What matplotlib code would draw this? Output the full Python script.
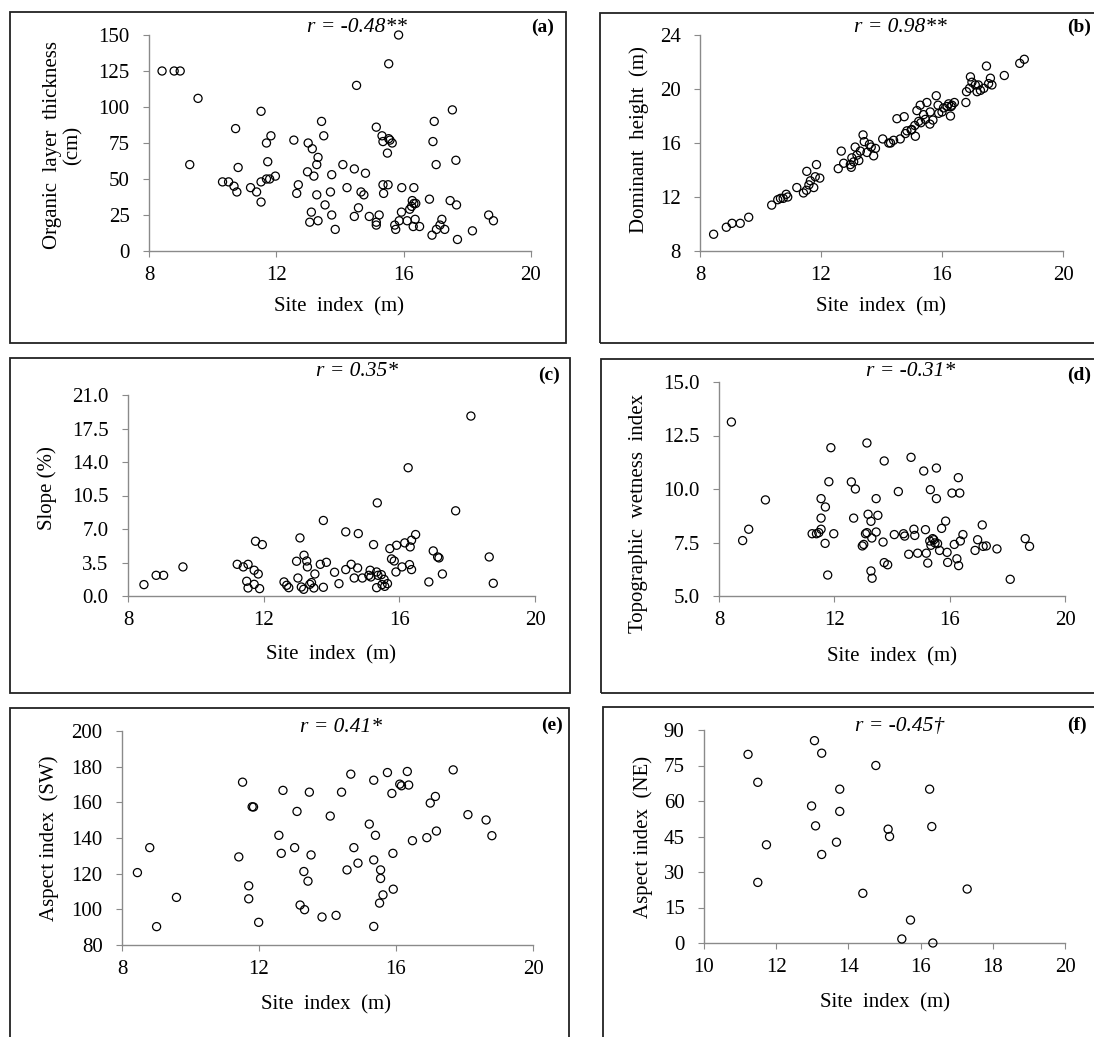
import matplotlib
matplotlib.use("Agg")
import matplotlib.pyplot as plt
from matplotlib.patches import Rectangle
from matplotlib.ticker import FormatStrFormatter

plt.rcParams["font.family"] = ["Liberation Serif", "DejaVu Serif"]

W, H = 1094, 1037

# ---------------------------------------------------------------------------
# Data (site index vs. stand / terrain variables)
# ---------------------------------------------------------------------------
si_a = [8.41, 8.79, 8.98, 9.54, 9.28, 10.72, 10.80, 11.52, 10.31, 10.50, 10.67, 10.76, 11.19,
        11.38, 11.52, 11.52, 11.69, 11.79, 11.97, 11.73, 11.69, 11.83, 12.55, 13.00, 13.13, 13.31,
        13.27, 13.42, 13.49, 12.98, 13.18, 12.69, 12.64, 13.74, 14.09, 14.45, 14.80, 14.22, 14.66,
        14.75, 13.70, 13.27, 13.53, 13.74, 13.10, 13.05, 13.31, 13.85, 14.58, 14.45, 14.92, 15.14,
        15.14, 15.23, 14.52, 15.53, 15.84, 15.14, 15.32, 15.35, 15.53, 15.57, 15.64, 15.49, 15.35,
        15.51, 15.37, 15.94, 16.32, 16.27, 16.32, 16.25, 16.38, 15.93, 15.72, 15.75, 15.86, 16.11,
        16.19, 16.36, 16.30, 16.50, 16.81, 16.89, 17.03, 17.14, 17.20, 17.29, 17.46, 17.66, 17.69,
        18.16, 18.67, 18.82, 16.92, 16.96, 17.02, 17.53, 17.64]
organic = [125, 125, 125, 106, 60, 85, 58, 97, 48, 48, 45, 41, 44,
           41, 34, 48, 50, 50, 52, 62, 75, 80, 77, 75, 71, 65,
           60, 90, 80, 55, 52, 46, 40, 53, 60, 57, 54, 44, 41,
           39, 41, 39, 32, 25, 27, 20, 21, 15, 30, 24, 24, 20,
           18, 25, 115, 130, 150, 86, 80, 76, 78, 77, 75, 68, 46,
           46, 40, 44, 44, 35, 33, 31, 33, 27, 18, 15, 21, 21,
           29, 22, 17, 17, 36, 11, 15, 18, 22, 15, 35, 32, 8,
           14, 25, 21, 76, 90, 60, 98, 63]

si_b = [8.45, 8.87, 9.06, 9.33, 9.61, 10.37, 10.57, 10.66, 10.75, 10.85, 11.20, 11.42, 11.52,
        11.53, 11.65, 11.76, 11.81, 11.85, 11.96, 12.57, 12.67, 12.75, 12.97, 13.02, 13.08, 13.13,
        13.19, 13.25, 13.39, 13.43, 13.52, 13.66, 13.74, 13.80, 14.04, 14.24, 14.40, 14.62, 14.79,
        14.84, 14.51, 14.75, 14.98, 15.12, 15.10, 15.23, 15.17, 15.28, 15.39, 15.45, 15.50, 15.61,
        15.70, 15.81, 15.87, 15.89, 16.05, 16.17, 16.22, 16.28, 16.33, 16.41, 16.79, 16.81, 16.91,
        16.94, 16.99, 17.10, 17.16, 17.27, 17.38, 17.47, 17.54, 17.60, 17.65, 18.06, 18.57, 18.72,
        10.90, 11.60, 13.00, 13.30, 13.60, 14.30, 15.00, 15.30, 15.60, 16.00, 16.30, 17.20]
dom_height = [9.24, 9.76, 10.05, 10.05, 10.5, 11.4, 11.8, 11.9, 11.9, 12.2, 12.7, 12.3, 12.5,
              13.9, 13.2, 12.7, 13.5, 14.4, 13.4, 14.1, 15.4, 14.5, 14.4, 14.9, 14.6, 15.7,
              15.1, 14.7, 16.6, 16.1, 15.3, 15.7, 15.05, 15.6, 16.3, 16.0, 16.2, 16.3, 16.7,
              16.9, 17.8, 17.95, 16.96, 16.5, 17.3, 17.6, 18.4, 18.8, 18.1, 17.75, 19.0, 18.3,
              17.7, 19.5, 18.8, 18.2, 18.6, 18.7, 18.9, 18.0, 18.8, 19.0, 19.0, 19.8, 20.05,
              20.9, 20.5, 20.3, 19.8, 19.9, 20.05, 21.7, 20.4, 20.8, 20.3, 21.0, 21.9, 22.2,
              12.0, 12.9, 14.2, 15.4, 15.9, 16.0, 17.0, 17.5, 17.4, 18.3, 18.7, 20.3]

si_c = [8.47, 8.83, 9.05, 9.62, 11.22, 11.40, 11.54, 11.72, 11.84, 11.50, 11.54, 11.72, 11.88,
        11.76, 11.96, 12.60, 12.68, 12.74, 12.97, 13.01, 13.07, 13.11, 13.18, 13.19, 13.27, 13.29,
        13.36, 13.41, 13.48, 13.51, 13.67, 13.76, 13.76, 13.85, 14.09, 14.22, 14.42, 14.42, 14.58,
        14.67, 14.77, 14.79, 14.91, 15.10, 15.14, 15.16, 15.24, 15.33, 15.37, 15.33, 15.35, 15.47,
        15.49, 15.55, 15.57, 15.65, 15.72, 15.77, 15.85, 15.92, 15.90, 16.08, 16.16, 16.26, 16.30,
        16.32, 16.36, 16.36, 16.48, 16.87, 17.00, 17.13, 17.17, 17.27, 17.66, 18.11, 18.65, 18.77]
slope = [1.19, 2.16, 2.16, 3.04, 3.31, 3.04, 3.31, 2.69, 2.30, 1.54, 0.84, 1.22, 0.77,
         5.72, 5.37, 1.47, 1.12, 0.87, 3.63, 1.88, 6.07, 0.94, 0.70, 4.26, 3.66, 3.04,
         1.22, 1.40, 0.84, 2.30, 3.31, 7.89, 0.91, 3.52, 2.48, 1.29, 6.70, 2.76, 3.31,
         1.88, 2.93, 6.52, 1.88, 2.16, 2.69, 1.99, 5.37, 2.51, 2.16, 0.87, 9.73, 2.23,
         1.19, 1.74, 1.01, 1.29, 4.95, 3.87, 3.66, 5.30, 2.51, 3.04, 5.55, 13.4, 3.28,
         5.13, 2.76, 5.83, 6.42, 1.47, 4.71, 4.08, 3.98, 2.30, 8.90, 18.8, 4.08, 1.33]

si_d = [8.43, 8.82, 9.03, 9.61, 11.23, 11.38, 11.46, 11.54, 11.54, 11.54, 11.69, 11.68, 11.77,
        11.81, 11.88, 11.98, 12.59, 12.73, 12.67, 12.97, 13.02, 13.08, 13.13, 13.13, 13.17, 13.27,
        13.30, 13.27, 13.31, 13.45, 13.51, 13.45, 13.69, 13.73, 13.73, 13.85, 14.08, 14.22, 14.40,
        14.44, 14.58, 14.66, 14.76, 14.79, 14.89, 15.10, 15.16, 15.19, 15.24, 15.31, 15.33, 15.35,
        15.41, 15.45, 15.49, 15.54, 15.54, 15.58, 15.65, 15.72, 15.86, 15.91, 15.93, 16.08, 16.16,
        16.25, 16.30, 16.35, 16.31, 16.37, 16.46, 16.88, 16.97, 17.13, 17.16, 17.27, 17.64, 18.10,
        18.62, 18.77]
twi = [13.13, 7.59, 8.12, 9.49, 7.91, 7.91, 7.96, 8.12, 8.64, 9.55, 9.16, 7.46, 5.98,
       10.34, 11.93, 7.91, 10.33, 10.00, 8.64, 7.34, 7.41, 7.91, 7.96, 12.15, 8.82, 8.49,
       7.71, 6.17, 5.83, 9.55, 8.77, 7.99, 7.52, 11.31, 6.56, 6.46, 7.87, 9.88, 7.91,
       7.80, 6.95, 11.48, 8.12, 7.83, 7.00, 10.84, 8.10, 7.00, 6.54, 7.57, 9.97, 7.37,
       7.68, 7.63, 7.48, 10.98, 9.55, 7.45, 7.13, 8.16, 8.50, 7.04, 6.57, 9.81, 7.41,
       6.74, 10.53, 9.81, 6.42, 7.57, 7.87, 7.13, 7.63, 8.32, 7.32, 7.34, 7.20, 5.78,
       7.68, 7.32]

si_e = [8.45, 8.81, 9.01, 9.59, 11.41, 11.52, 11.70, 11.70, 11.80, 11.84, 11.99, 12.58, 12.65,
        12.70, 13.04, 13.11, 13.20, 13.33, 13.31, 13.43, 13.47, 13.52, 13.84, 14.08, 14.25, 14.41,
        14.57, 14.68, 14.77, 14.89, 15.22, 15.35, 15.35, 15.35, 15.40, 15.55, 15.55, 15.62, 15.52,
        15.75, 15.88, 15.91, 15.92, 16.11, 16.16, 16.33, 16.37, 16.48, 16.90, 17.00, 17.15, 17.18,
        17.67, 18.10, 18.63, 18.80]
aspect_sw = [120.6, 134.6, 90.3, 106.7, 129.4, 171.3, 113.2, 105.9, 157.5, 157.4, 92.7, 141.5, 131.4,
             166.7, 134.6, 154.9, 102.4, 99.8, 121.2, 115.8, 165.7, 130.5, 95.7, 152.3, 96.6, 165.7,
             122.1, 175.8, 134.6, 125.9, 147.8, 90.4, 127.7, 172.4, 141.5, 122.1, 117.3, 108.1, 103.5,
             176.7, 165.0, 131.4, 111.3, 170.2, 169.3, 177.3, 169.7, 138.5, 140.2, 159.6, 163.3, 143.9,
             178.2, 153.1, 150.1, 141.3]

si_f = [11.22, 11.49, 11.73, 11.49, 13.06, 13.26, 12.98, 13.09, 13.26, 13.67, 13.76,
        13.76, 14.40, 14.76, 15.10, 15.14, 15.48, 15.72, 16.25, 16.31, 16.34, 17.29]
aspect_ne = [79.7, 67.9, 41.5, 25.6, 85.5, 80.2, 57.9, 49.5, 37.4, 42.6, 65.0,
             55.6, 21.0, 75.0, 48.1, 45.0, 1.7, 9.7, 65.0, 49.2, 0.0, 22.8]

# ---------------------------------------------------------------------------
# Panel layout (pixel boxes)
# ---------------------------------------------------------------------------
PANELS = [
    dict(x=si_a, y=organic, tag="(a)", r="r = -0.48**",
         frame=(10, 12, 566, 343), axes=(149, 35, 531, 251),
         xlim=(8, 20), xticks=[8, 12, 16, 20], ylim=(0, 150), yticks=list(range(0, 151, 25)), yfmt="%d",
         ylabel="Organic  layer  thickness\n(cm)", ylab_xy=(63, 145), xlab_xy=(339, 307),
         r_xy=(357, 27), tag_xy=(543, 27)),
    dict(x=si_b, y=dom_height, tag="(b)", r="r = 0.98**",
         frame=(600, 13, 1110, 343), axes=(700, 35, 1063, 251),
         xlim=(8, 20), xticks=[8, 12, 16, 20], ylim=(8, 24), yticks=[8, 12, 16, 20, 24], yfmt="%d",
         ylabel="Dominant  height  (m)", ylab_xy=(639, 140), xlab_xy=(881, 307),
         r_xy=(900, 27), tag_xy=(1079, 27)),
    dict(x=si_c, y=slope, tag="(c)", r="r = 0.35*",
         frame=(10, 358, 570, 693), axes=(128, 395, 535, 596),
         xlim=(8, 20), xticks=[8, 12, 16, 20], ylim=(0, 21), yticks=[0, 3.5, 7, 10.5, 14, 17.5, 21],
         yfmt="%.1f",
         ylabel="Slope (%)", ylab_xy=(47, 488), xlab_xy=(331, 655),
         r_xy=(357, 372), tag_xy=(549, 375)),
    dict(x=si_d, y=twi, tag="(d)", r="r = -0.31*",
         frame=(601, 359, 1110, 693), axes=(719, 382, 1065, 596),
         xlim=(8, 20), xticks=[8, 12, 16, 20], ylim=(5, 15), yticks=[5, 7.5, 10, 12.5, 15], yfmt="%.1f",
         ylabel="Topographic  wetness  index", ylab_xy=(639, 513), xlab_xy=(892, 657),
         r_xy=(911, 372), tag_xy=(1079, 375)),
    dict(x=si_e, y=aspect_sw, tag="(e)", r="r = 0.41*",
         frame=(10, 708, 569, 1045), axes=(122, 731, 533, 945),
         xlim=(8, 20), xticks=[8, 12, 16, 20], ylim=(80, 200), yticks=list(range(80, 201, 20)), yfmt="%d",
         ylabel="Aspect index  (SW)", ylab_xy=(49, 838), xlab_xy=(326, 1005),
         r_xy=(341, 727), tag_xy=(552, 725)),
    dict(x=si_f, y=aspect_ne, tag="(f)", r="r = -0.45\u2020",
         frame=(603, 707, 1110, 1045), axes=(704, 730, 1065, 943),
         xlim=(10, 20), xticks=list(range(10, 21, 2)), ylim=(0, 90), yticks=list(range(0, 91, 15)), yfmt="%d",
         ylabel="Aspect index  (NE)", ylab_xy=(643, 837), xlab_xy=(885, 1003),
         r_xy=(900, 727), tag_xy=(1077, 725)),
]

AXIS_GREY = "#8a8a8a"


def fx(px):
    return px / W


def fy(py):
    return 1 - py / H


fig = plt.figure(figsize=(W / 100, H / 100), dpi=100)

for p in PANELS:
    # outer frame around each panel
    l, t, r, b = p["frame"]
    fig.patches.append(Rectangle((fx(l), fy(b)), fx(r - l), (b - t) / H, transform=fig.transFigure,
                                 fill=False, edgecolor="#222222", linewidth=1.3))

    l, t, r, b = p["axes"]
    ax = fig.add_axes([fx(l), fy(b), fx(r - l), (b - t) / H])
    ax.scatter(p["x"], p["y"], s=34, facecolors="none", edgecolors="black", linewidths=0.9,
               clip_on=False, zorder=3)
    ax.set_xlim(*p["xlim"])
    ax.set_ylim(*p["ylim"])
    ax.set_xticks(p["xticks"])
    ax.set_yticks(p["yticks"])
    ax.yaxis.set_major_formatter(FormatStrFormatter(p["yfmt"]))

    for side in ("top", "right"):
        ax.spines[side].set_visible(False)
    for side in ("left", "bottom"):
        ax.spines[side].set_color(AXIS_GREY)
        ax.spines[side].set_linewidth(1.0)
    ax.tick_params(axis="both", direction="out", length=4, width=0.8, color=AXIS_GREY,
                   labelsize=15, labelcolor="black")
    ax.tick_params(axis="y", pad=10)
    ax.tick_params(axis="x", pad=7)
    ax.patch.set_alpha(0)

    fig.text(fx(p["ylab_xy"][0]), fy(p["ylab_xy"][1]), p["ylabel"], rotation=90,
             ha="center", va="center", fontsize=15, linespacing=1.1)
    fig.text(fx(p["xlab_xy"][0]), fy(p["xlab_xy"][1]), "Site  index  (m)",
             ha="center", va="center", fontsize=15)
    fig.text(fx(p["r_xy"][0]), fy(p["r_xy"][1]), p["r"], ha="center", va="center",
             fontsize=15.5, style="italic")
    fig.text(fx(p["tag_xy"][0]), fy(p["tag_xy"][1]), p["tag"], ha="center", va="center",
             fontsize=14, fontweight="bold")

fig.savefig("out.png", dpi=100, facecolor="white")
